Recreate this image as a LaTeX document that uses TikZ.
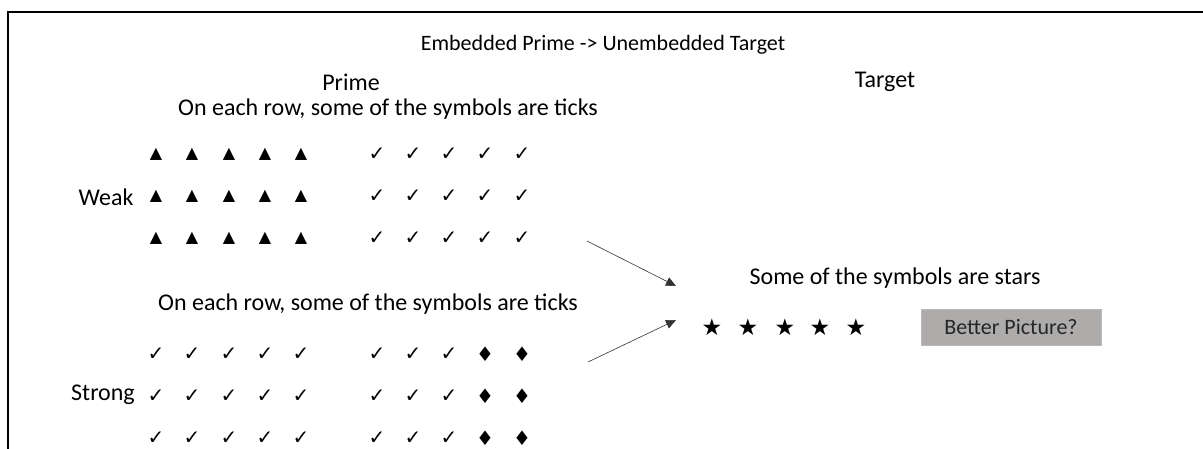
\documentclass[tikz,border=0pt]{standalone}
\usepackage{fontspec}
\setmainfont{Carlito}
\newfontfamily\symfont{DejaVu Sans}
\usetikzlibrary{arrows.meta,positioning}
\definecolor{boxgray}{HTML}{AEABAB}
\definecolor{boxtext}{HTML}{262626}

\begin{document}
\begin{tikzpicture}[x=1pt,y=-1pt,
    every node/.style={inner sep=0pt,font=\fontsize{24}{28}\selectfont},
    >={Triangle[length=10pt,width=9pt]},
    headline/.style={font=\fontsize{22}{26}\selectfont},
    tri/.style={font=\symfont\fontsize{16}{16}\selectfont},
    tick/.style={font=\symfont\fontsize{20}{20}\selectfont},
    dia/.style={font=\symfont\fontsize{20}{20}\selectfont},
    star/.style={font=\symfont\fontsize{23}{23}\selectfont},
    link/.style={->,draw=black!80,line width=0.6pt},
    better/.style={fill=boxgray,draw=boxgray!85!white,minimum width=180pt,
      minimum height=36pt,text=boxtext,font=\fontsize{22}{26}\selectfont}
    ]
    \useasboundingbox (0,0) rectangle (1203,449);
    \draw[line width=1.5pt] (8,449) -- (8,12) -- (1203,12);
    \node[headline] (title) at (603,45) {Embedded Prime -> Unembedded Target};
    \node (prime) at (351,82) {Prime}; \node (target) at (885,82) {Target};
    \node (weaknote) at (388,109) {On each row, some of the symbols are ticks};
    \node (strongnote) at (368,304) {On each row, some of the symbols are ticks};
    \node (weak) at (106,197) {Weak}; \node (strong) at (103,395) {Strong};
    % weak prime: triangles and ticks
    \foreach \r/\y in {1/154,2/196,3/238}{
      \foreach \c/\x in {1/156,2/192,3/229,4/265,5/301}
        \node[tri] (wtri\r\c) at (\x,\y) {▲};
      \foreach \c/\x in {1/377,2/413,3/449,4/485,5/522}
        \node[tick] (wtick\r\c) at (\x,\y) {✓};
    }
    % strong prime: ticks and diamonds
    \foreach \r/\y in {1/354,2/396,3/438}{
      \foreach \c/\x in {1/156,2/192,3/229,4/265,5/301}
        \node[tick] (stick\r\c) at (\x,\y) {✓};
      \foreach \c/\x in {1/377,2/413,3/449}
        \node[tick] (srtick\r\c) at (\x,\y) {✓};
      \foreach \c/\x in {4/485,5/522}
        \node[dia] (sdia\r\c) at (\x,\y) {♦};
    }
    % target
    \node (starnote) at (895,278) {Some of the symbols are stars};
    \foreach \c/\x in {1/712,2/748,3/785,4/820,5/856}
      \node[star] (star\c) at (\x,327) {★};
    \node[better] (pic) at (1011,327) {Better Picture?};
    \coordinate (weakend) at (587,241); \coordinate (upin) at (676,286);
    \coordinate (strongend) at (588,362); \coordinate (downin) at (676,320);
    \draw[link] (weakend) -- (upin); \draw[link] (strongend) -- (downin);
\end{tikzpicture}
\end{document}
